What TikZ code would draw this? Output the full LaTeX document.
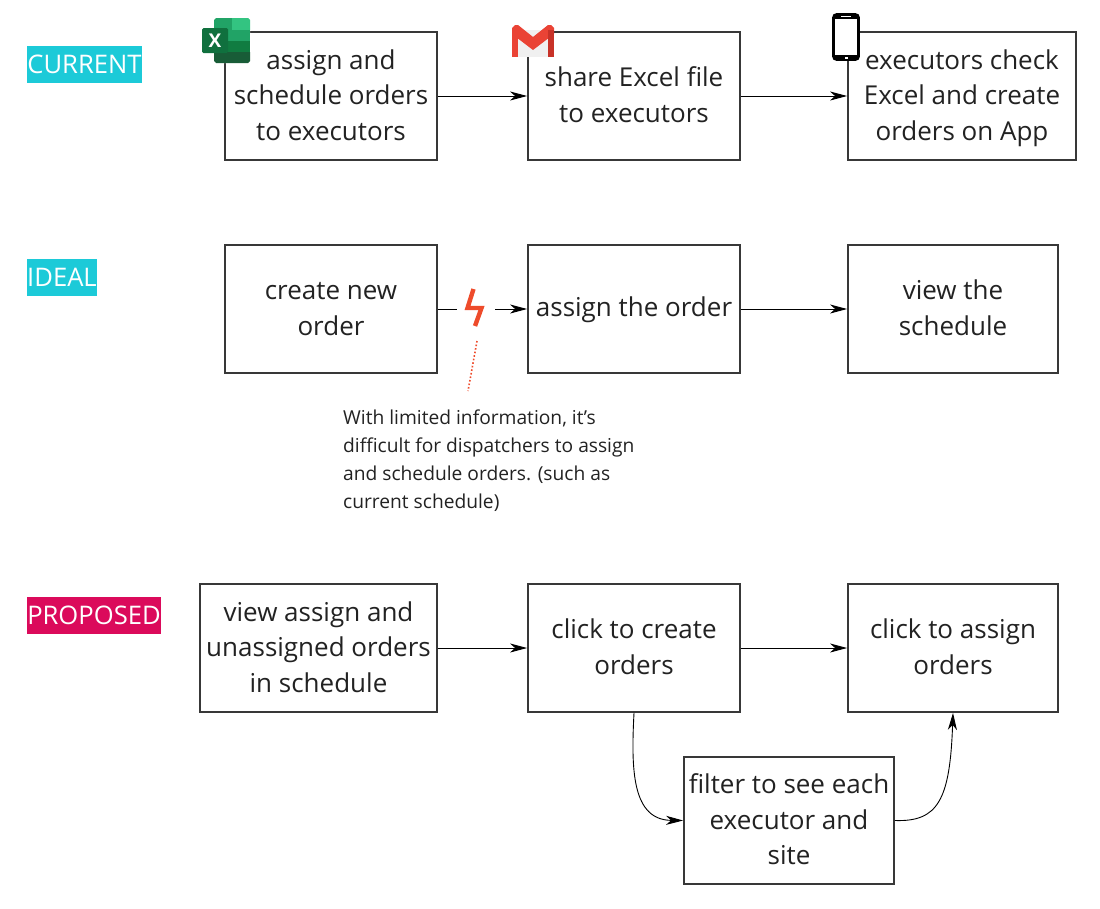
\documentclass[tikz,border=0pt]{standalone}
\usepackage{fontspec}
\setmainfont{Open Sans}
\usetikzlibrary{arrows.meta}
\definecolor{tealtag}{HTML}{1CCAD8}
\definecolor{pinktag}{HTML}{DB0A5B}
\definecolor{boltred}{HTML}{EE4B2B}
\definecolor{inkgrey}{HTML}{222222}
\newcommand{\toprow}{\rule{0pt}{24pt}}
\tikzset{
  stepbox/.style={draw=inkgrey!90, line width=1.8pt, fill=white, inner sep=0pt, align=center, text=inkgrey,
    font=\fontsize{26}{35.5}\selectfont},
  manyline/.style={stepbox, execute at end node={\rule[-7pt]{0pt}{1pt}}},
  tag/.style={text=white, inner sep=0pt, anchor=center, minimum height=37pt, font=\fontsize{25.6}{30}\selectfont},
  flow/.style={-{Stealth[length=17pt,width=9pt,inset=5pt]}, line width=.9pt, black},
}
\begin{document}
\begin{tikzpicture}[x=1pt,y=-1pt]
\useasboundingbox (0,0) rectangle (1100,908);

% tags on the left
\node[tag,fill=tealtag,minimum width=115pt] (current) at (84.5,64.5) {CURRENT};
\node[tag,fill=tealtag,minimum width=70pt] (ideal) at (62,277.5) {IDEAL};
\node[tag,fill=pinktag,minimum width=134pt] (proposed) at (94,615.5) {PROPOSED};

% first row
\node[manyline,minimum width=212pt,minimum height=128pt] (c1) at (331,96) {\toprow assign and\\schedule orders\\to executors};
\node[manyline,minimum width=212pt,minimum height=128pt] (c2) at (634,96) {\toprow share Excel file\\to executors};
\node[manyline,minimum width=228pt,minimum height=128pt] (c3) at (962,96) {\toprow executors check\\Excel and create\\orders on App};
\draw[flow] (c1) -- (c2);
\draw[flow] (c2) -- (c3);

% second row
\node[manyline,minimum width=212pt,minimum height=128pt] (i1) at (331,309) {\toprow create new\\order};
\node[stepbox,minimum width=212pt,minimum height=128pt] (i2) at (634,309) {\rule{0pt}{22pt}assign the order};
\node[manyline,minimum width=210pt,minimum height=128pt] (i3) at (953,309) {\toprow view the\\schedule};
\coordinate (gapl) at (457,309);
\coordinate (gapr) at (495,309);
\draw[line width=.9pt, black] (i1) -- (gapl);
\draw[flow] (gapr) -- (i2);
\draw[flow] (i2) -- (i3);

% the problem
\draw[boltred, line width=4.4pt, miter limit=10] (473.5,289) -- (467.5,308) -- (481.5,308) -- (475,326);
\coordinate (dota) at (477,341);
\coordinate (dotb) at (468,391);
\draw[boltred, line width=1.6pt, dotted] (dota) -- (dotb);
\node[anchor=north west, inner sep=0pt, text=inkgrey, align=left, font=\fontsize{19.2}{28}\selectfont] (note) at (343,410)
  {With limited information, it's\\difficult for dispatchers to assign\\and schedule orders. (such as\\current schedule)};

% third row
\node[manyline,minimum width=237pt,minimum height=128pt] (p1) at (318.5,648) {\toprow view assign and\\unassigned orders\\in schedule};
\node[manyline,minimum width=212pt,minimum height=128pt] (p2) at (634,648) {\toprow click to create\\orders};
\node[manyline,minimum width=210pt,minimum height=128pt] (p3) at (953,648) {\toprow click to assign\\orders};
\node[manyline,minimum width=210pt,minimum height=127pt] (f1) at (789,820.5) {\toprow filter to see each\\executor and\\site};
\draw[flow] (p1) -- (p2);
\draw[flow] (p2) -- (p3);
\draw[flow] (p2.south) .. controls (631,770) and (632,820) .. (f1.west);
\draw[flow] (f1.east) .. controls (938,822) and (950,800) .. (p3.south);

% excel
\fill[rounded corners=1pt,fill=white] (214,18) rectangle (250,63);
\fill[fill={rgb,255:red,33;green,163;blue,102}] (214,20) -- (216,18) -- (233,18) -- (233,41) -- (214,41) -- cycle;
\fill[fill={rgb,255:red,51;green,196;blue,129}] (232,18) -- (248,18) -- (250,20) -- (250,30) -- (232,30) -- cycle;
\fill[fill={rgb,255:red,33;green,163;blue,102}] (232,30) rectangle (250,41);
\fill[fill={rgb,255:red,16;green,124;blue,65}] (214,41) rectangle (250,52);
\fill[fill={rgb,255:red,24;green,92;blue,55}] (214,52) -- (250,52) -- (250,61) -- (248,63) -- (216,63) -- (214,61) -- cycle;
\node[fill={rgb,255:red,16;green,112;blue,62},rounded corners=1.5pt,minimum width=26pt,minimum height=25pt,inner sep=0pt,text=white,font=\bfseries\fontsize{19}{19}\selectfont] (xls) at (215,40.5) {X};

% gmail
\fill[fill=white!94!black] (512,30) rectangle (554,57);
\fill[fill={rgb,255:red,234;green,67;blue,53}] (512,28) -- (515,25) -- (518,25) -- (533,37) -- (548,25) -- (551,25) -- (554,28) -- (554,34) -- (533,50) -- (512,34) -- cycle;
\fill[fill={rgb,255:red,234;green,67;blue,53}] (512,30) rectangle (518,57);
\fill[fill={rgb,255:red,200;green,50;blue,40}] (548,30) rectangle (554,57);

% phone
\draw[black, fill=white, line width=2.6pt, rounded corners=3pt] (833.5,14.5) rectangle (858.5,59.5);
\fill[black] (834,14) rectangle (858,19);
\fill[black] (834,55) rectangle (858,60);
\fill[white] (841,15.5) rectangle (851,16.8);
\fill[white] (844.5,56.5) rectangle (847.5,59);
\end{tikzpicture}
\end{document}
